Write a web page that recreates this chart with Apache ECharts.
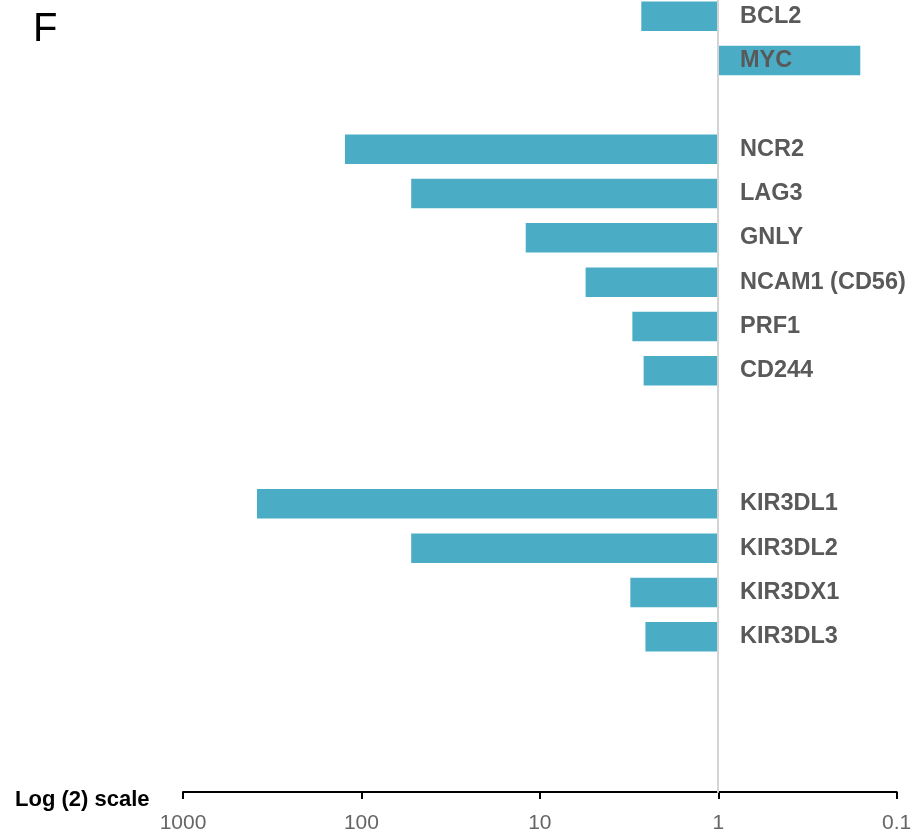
<!DOCTYPE html>
<html>
<head>
<meta charset="utf-8">
<script src="https://cdn.jsdelivr.net/npm/echarts@6/dist/echarts.min.js"></script>
<style>
  html, body { margin: 0; padding: 0; background: #fff; overflow: hidden; }
  /* canvas starts a few pixels above the page so the first row sits flush with the top */
  #chart { width: 916px; height: 844px; margin-top: -6px; }
</style>
</head>
<body>
<div id="chart"></div>
<script>
// Genes, top to bottom; blank strings are spacer rows between the groups.
const genes = [
  'BCL2', 'MYC', ' ',
  'NCR2', 'LAG3', 'GNLY', 'NCAM1 (CD56)', 'PRF1', 'CD244', '  ', '   ',
  'KIR3DL1', 'KIR3DL2', 'KIR3DX1', 'KIR3DL3', '    ', '     ', '      '
];

// Fold change per gene (log axis, bars grow from 1); null for spacer rows.
const foldChange = [
  2.70, 0.16, null,
  123.7, 52.6, 12.0, 5.54, 3.03, 2.62, null, null,
  385, 52.6, 3.11, 2.56, null, null, null
];

// Decade ticks on the value axis.
const tickValues = [1000, 100, 10, 1, 0.1];

const chart = echarts.init(document.getElementById('chart'), null, { renderer: 'canvas' });

chart.setOption({
  animation: false,
  backgroundColor: '#ffffff',
  grid: { left: 183, right: 19.3, top: 0, bottom: 46 },
  xAxis: {
    type: 'log',
    logBase: 10,
    min: 0.1,
    max: 1000,
    inverse: true,
    splitLine: { show: false },
    axisLine: { show: true, lineStyle: { color: '#000000', width: 2 } },
    axisTick: { show: true, length: 7, lineStyle: { color: '#000000', width: 2 } },
    minorTick: { show: false },
    axisLabel: {
      color: '#666666',
      fontFamily: 'Liberation Sans',
      fontSize: 21,
      margin: 21,
      showMinLabel: true,
      showMaxLabel: true,
      formatter: function (v) {
        const match = tickValues.find(t => Math.abs(Math.log10(t) - Math.log10(v)) < 1e-6);
        return match !== undefined ? String(match) : '';
      }
    }
  },
  yAxis: {
    type: 'category',
    data: genes,
    inverse: true,
    position: 'right',
    offset: -178.7,
    z: 10,
    axisLine: { show: true, lineStyle: { color: '#d4d4d4', width: 2 } },
    axisTick: { show: false },
    splitLine: { show: false },
    axisLabel: {
      margin: 22,
      color: '#595959',
      fontFamily: 'Liberation Sans',
      fontWeight: 'bold',
      fontSize: 23.5,
      interval: 0
    }
  },
  series: [{
    type: 'bar',
    data: foldChange,
    barWidth: 29.5,
    itemStyle: { color: '#4bacc6' },
    silent: true
  }],
  graphic: [
    {
      type: 'text',
      left: 33,
      top: 16,
      style: {
        text: 'F',
        fill: '#000000',
        font: '40px "Liberation Sans"'
      }
    },
    {
      type: 'text',
      left: 15,
      top: 795,
      style: {
        text: 'Log (2) scale',
        fill: '#000000',
        font: 'bold 22px "Liberation Sans"'
      }
    }
  ]
});
</script>
</body>
</html>
